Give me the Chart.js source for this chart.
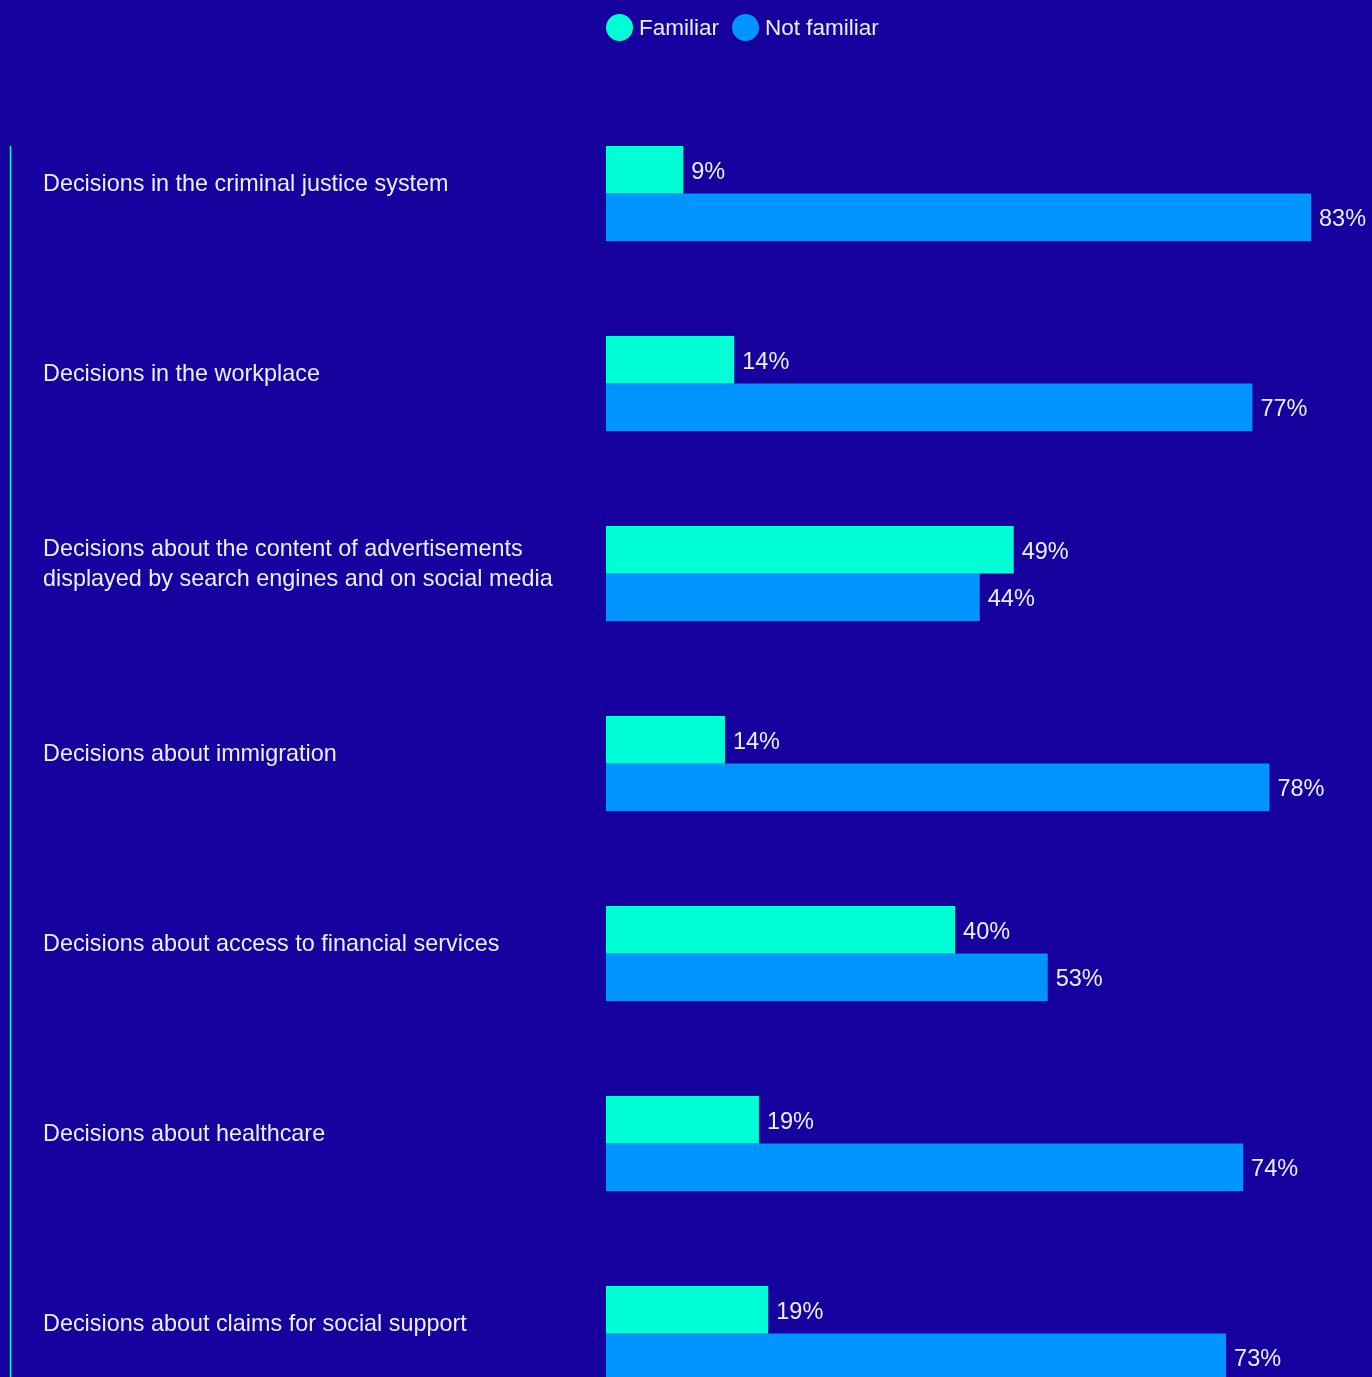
<!DOCTYPE html>
<html>
<head>
<meta charset="utf-8">
<script src="https://cdn.jsdelivr.net/npm/chart.js@4/dist/chart.umd.min.js"></script>
<style>
  html, body { margin: 0; padding: 0; background: #16009e; overflow: hidden; }
  #wrap { position: relative; width: 1372px; height: 1377px; overflow: hidden; }
  #bars { position: absolute; left: 0; top: 0; }
  #legend { position: absolute; left: 606px; top: 14px; display: flex; align-items: center;
            font-family: "Liberation Sans", Arial, sans-serif; font-size: 22.5px; color: #eeeeff; }
  #legend .item { display: flex; align-items: center; margin-right: 13px; }
  #legend .dot { width: 27px; height: 27px; border-radius: 50%; margin-right: 6px; }
</style>
</head>
<body>
<div id="wrap">
  <canvas id="bars" width="1372" height="1430"></canvas>
  <div id="legend"></div>
</div>
<script>
const categories = [
  'Decisions in the criminal justice system',
  'Decisions in the workplace',
  ['Decisions about the content of advertisements', 'displayed by search engines and on social media'],
  'Decisions about immigration',
  'Decisions about access to financial services',
  'Decisions about healthcare',
  'Decisions about claims for social support'
];
// bar lengths
const familiar    = [9.1, 15.1, 48.0, 14.0, 41.1, 18.0, 19.1];
const notFamiliar = [83.0, 76.1, 44.0, 78.1, 52.0, 75.0, 73.0];
// printed labels
const familiarText    = ['9%', '14%', '49%', '14%', '40%', '19%', '19%'];
const notFamiliarText = ['83%', '77%', '44%', '78%', '53%', '74%', '73%'];

const textColor = '#eeeeff';
const fontFamily = '"Liberation Sans", Arial, sans-serif';

const valueLabels = {
  id: 'valueLabels',
  afterDatasetsDraw(chart) {
    const ctx = chart.ctx;
    const texts = [familiarText, notFamiliarText];
    ctx.save();
    ctx.fillStyle = textColor;
    ctx.font = '23.5px ' + fontFamily;
    ctx.textAlign = 'left';
    ctx.textBaseline = 'middle';
    chart.data.datasets.forEach((ds, di) => {
      chart.getDatasetMeta(di).data.forEach((bar, i) => {
        ctx.fillText(texts[di][i], bar.x + 8, bar.y + 2.5);
      });
    });
    ctx.restore();
  }
};

const sideLine = {
  id: 'sideLine',
  beforeDraw(chart) {
    const y = chart.scales.y;
    const top = y.getPixelForValue(0) - y.height / categories.length / 4;
    const ctx = chart.ctx;
    ctx.save();
    ctx.strokeStyle = '#00ffd5';
    ctx.lineWidth = 1.5;
    ctx.beginPath();
    ctx.moveTo(10.5, top);
    ctx.lineTo(10.5, chart.height);
    ctx.stroke();
    ctx.restore();
  }
};

const chart = new Chart(document.getElementById('bars').getContext('2d'), {
  type: 'bar',
  data: {
    labels: categories,
    datasets: [{
      label: 'Familiar',
      data: familiar,
      backgroundColor: '#00ffd5'
    }, {
      label: 'Not familiar',
      data: notFamiliar,
      backgroundColor: '#0094ff'
    }]
  },
  options: {
    indexAxis: 'y',
    responsive: false,
    animation: false,
    categoryPercentage: 0.5,
    barPercentage: 1.0,
    layout: { autoPadding: false, padding: { left: 43, right: 1.5, top: 98.5, bottom: 1.5 } },
    plugins: {
      legend: { display: false },
      tooltip: { enabled: false }
    },
    scales: {
      x: {
        min: 0,
        max: 90,
        display: false
      },
      y: {
        grid: { display: false },
        border: { display: false },
        afterFit(scale) {
          scale.width = 563;
          scale.paddingTop = 0;
          scale.paddingBottom = 0;
        },
        ticks: {
          crossAlign: 'far',
          padding: 0,
          labelOffset: -9,
          color: textColor,
          font: { family: fontFamily, size: 23.4, lineHeight: 1.3 }
        }
      }
    }
  },
  plugins: [valueLabels, sideLine]
});

const legend = document.getElementById('legend');
chart.data.datasets.forEach(ds => {
  const item = document.createElement('div');
  item.className = 'item';
  const dot = document.createElement('span');
  dot.className = 'dot';
  dot.style.background = ds.backgroundColor;
  const txt = document.createElement('span');
  txt.textContent = ds.label;
  item.appendChild(dot);
  item.appendChild(txt);
  legend.appendChild(item);
});
</script>
</body>
</html>
